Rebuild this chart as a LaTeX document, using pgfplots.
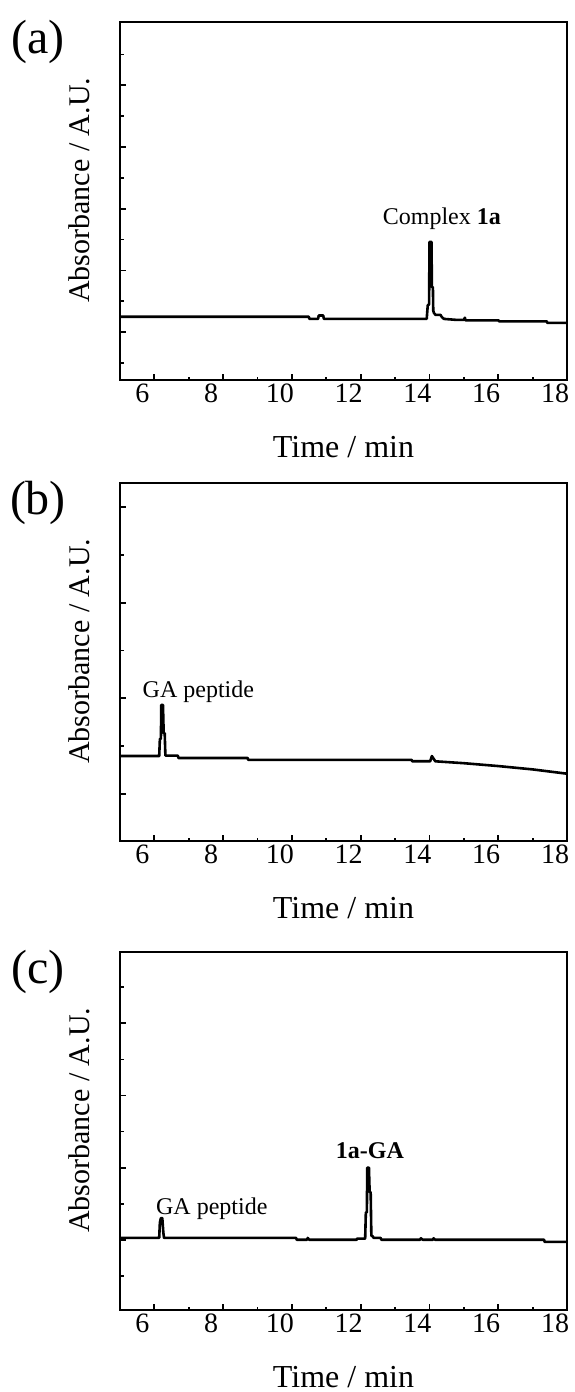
\documentclass[border=0pt]{standalone}
\usepackage{fontspec}
\setmainfont{Liberation Serif}
\usepackage{pgfplots}
\pgfplotsset{compat=1.18}
\pgfplotsset{panel/.style={
  scale only axis, width=447pt, height=358pt,
  xmin=5, xmax=18, xtick={6,8,...,18}, minor xtick={5,7,...,17},
  tick pos=left, tick align=inside,
  major tick length=6pt, minor tick length=3.5pt,
  every tick/.style={black, line width=1.8pt},
  axis line style={line width=2.7pt},
  yticklabels={},
  /pgf/number format/assume math mode=true,
  xticklabel style={font=\fontsize{28}{28}\selectfont, xshift=-12pt},
  xlabel={Time / min}, ylabel={Absorbance / A.U.},
  xlabel style={font=\fontsize{32}{32}\selectfont, at={(axis description cs:0.5,-0.187)}, anchor=center},
  ylabel style={font=\fontsize{30}{30}\selectfont, at={(axis description cs:-0.09,0.53)}, anchor=center},
  anchor=north west,
}}
\begin{document}
\begin{tikzpicture}
\useasboundingbox (0,0) rectangle (575pt,-1392pt);
% ---------- (a)
\begin{axis}[panel, at={(120pt,-22pt)},
  ymin=-1.55, ymax=10.05, ytick={0,2,4,6,8}, minor ytick={-1,1,3,5,7,9}]
\addplot[black, line width=2.6pt, line join=round] coordinates {
(5.0,0.50) (10.49,0.50) (10.51,0.43) (10.76,0.43) (10.78,0.54) (10.91,0.54) (10.93,0.43)
(13.92,0.43) (13.95,0.87) (13.99,0.90) (14.00,2.92) (14.06,2.92) (14.07,1.46) (14.10,1.46)
(14.11,0.70) (14.13,0.62) (14.18,0.56) (14.32,0.56) (14.36,0.49) (14.42,0.43) (14.76,0.40)
(15.00,0.40) (15.03,0.47) (15.05,0.38) (16.01,0.38) (16.03,0.35) (17.41,0.35) (17.43,0.30) (18.0,0.30)
};
\node[font=\fontsize{24}{24}\selectfont, anchor=base] at (axis cs:14.36,3.5) {Complex \textbf{1a}};
\end{axis}
\node[anchor=north, inner sep=0pt, font=\fontsize{48}{48}\selectfont] at (38pt,-20pt) {(a)};
% ---------- (b)
\begin{axis}[panel, at={(120pt,-483pt)},
  ymin=-0.99, ymax=6.51, ytick={0,2,4,6}, minor ytick={1,3,5}]
\addplot[black, line width=2.6pt, line join=round] coordinates {
(5.0,0.79) (6.14,0.79) (6.16,1.15) (6.19,1.15) (6.20,1.86) (6.25,1.86) (6.27,1.27) (6.30,1.27)
(6.32,0.80) (6.68,0.80) (6.70,0.75) (8.71,0.75) (8.73,0.71) (13.48,0.71) (13.50,0.68)
(14.02,0.68) (14.07,0.79) (14.17,0.68) (15.0,0.64) (16.0,0.58) (17.0,0.51) (18.0,0.42)
};
\node[font=\fontsize{24}{24}\selectfont, anchor=base] at (axis cs:7.28,2.02) {GA peptide};
\end{axis}
\node[anchor=north, inner sep=0pt, font=\fontsize{48}{48}\selectfont] at (38pt,-481pt) {(b)};
% ---------- (c)
\begin{axis}[panel, at={(120pt,-952pt)},
  ymin=-1.95, ymax=7.98, ytick={0,2,4,6}, minor ytick={-1,1,3,5,7}]
\addplot[black, line width=2.6pt, line join=round] coordinates {
(5.0,0.05) (6.14,0.05) (6.16,0.48) (6.19,0.60) (6.23,0.60) (6.26,0.20) (6.28,0.05)
(10.12,0.05) (10.14,0.0) (10.44,0.0) (10.46,0.05) (10.50,0.0) (11.88,0.0) (11.90,0.03)
(12.13,0.03) (12.15,0.76) (12.18,0.76) (12.19,2.0) (12.24,2.0) (12.26,1.32) (12.29,1.32)
(12.31,0.11) (12.34,0.10) (12.38,0.05) (12.58,0.05) (12.60,0.0) (13.73,0.0) (13.75,0.04)
(13.80,0.0) (14.10,0.0) (14.12,0.04) (14.16,0.0) (17.33,0.0) (17.35,-0.06) (18.0,-0.06)
};
\node[font=\fontsize{24}{24}\selectfont, anchor=base] at (axis cs:7.67,0.71) {GA peptide};
\node[font=\fontsize{24}{24}\selectfont, anchor=base] at (axis cs:12.27,2.24) {\textbf{1a-GA}};
\end{axis}
\node[anchor=north, inner sep=0pt, font=\fontsize{48}{48}\selectfont] at (38pt,-950pt) {(c)};
\end{tikzpicture}
\end{document}
